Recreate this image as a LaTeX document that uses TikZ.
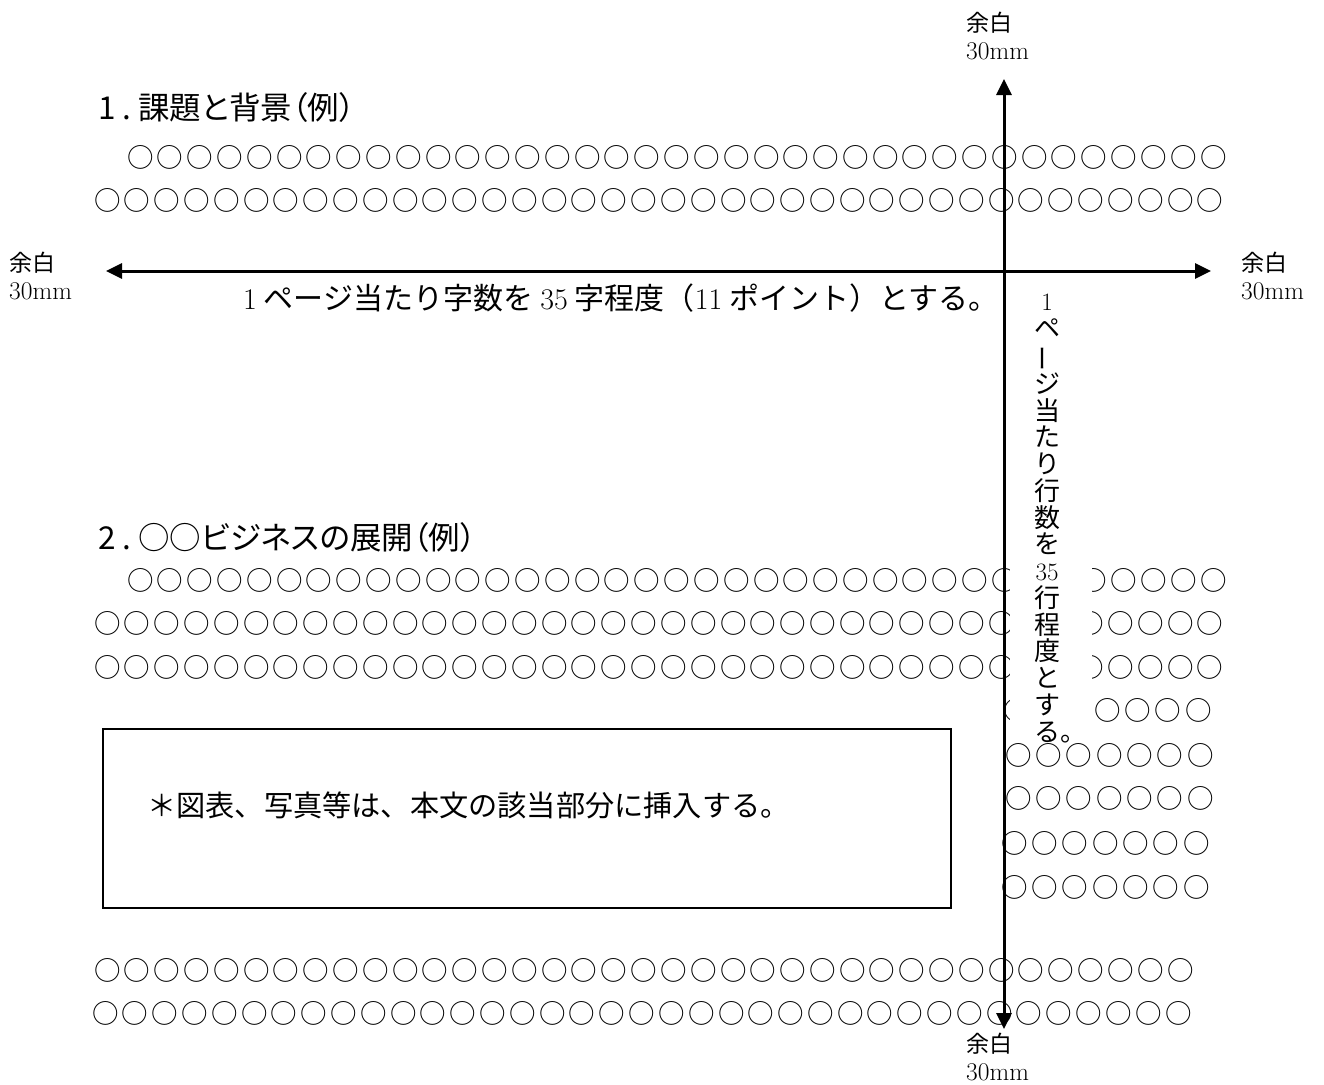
\documentclass[tikz,border=0pt]{standalone}
\usepackage{fontspec}
\usepackage{graphicx}
\newfontfamily\jp{Noto Sans CJK JP}
\newfontfamily\jpp[RawFeature=+palt]{Noto Sans CJK JP}
\usetikzlibrary{arrows.meta}
\ExplSyntaxOn
\cs_new:Npn \circrow #1 #2 { \prg_replicate:nn {#1} {○\kern#2pt} }
\ExplSyntaxOff
\begin{document}
\begin{tikzpicture}[x=1pt,y=-1pt,
  crow/.style={anchor=west, inner sep=0pt, font=\jp\fontsize{26.5}{27}\selectfont},
  lbl/.style={anchor=north west, align=left, inner sep=0pt, font=\fontsize{25.5}{28}\selectfont},
  head/.style={anchor=west, inner sep=0pt, font=\jpp\fontsize{31.5}{33}\selectfont},
  body/.style={anchor=west, inner sep=0pt, font=\jp\fontsize{30}{31}\selectfont},
  arr/.style={line width=3pt, {Triangle[length=16pt,width=15pt]}-{Triangle[length=16pt,width=15pt]}}]
\useasboundingbox (0,0) rectangle (1324,1084);

% headings
\node[head] (h1) at (98,108) {1\kern7pt.\kern7pt課題と背景（例）};
\node[head] (h2) at (98,538) {2\kern7pt.\kern7pt○○ビジネスの展開（例）};

% rows of circles
\node[crow] (r1) at (127,157) {\circrow{37}{3.3}};
\node[crow] (r2) at (94,200) {\circrow{38}{3.3}};
\node[crow] (r3) at (127,580) {\circrow{37}{3.3}};
\node[crow] (r4) at (94,623) {\circrow{38}{3.3}};
\node[crow] (r5) at (94,667) {\circrow{38}{3.3}};
\node[crow] (r6) at (1003,710) {\circrow{7}{3.8}};
\node[crow] (r7) at (1005,755) {\circrow{7}{3.8}};
\node[crow] (r8) at (1005,798) {\circrow{7}{3.8}};
\node[crow] (r9) at (1001,843) {\circrow{7}{3.8}};
\node[crow] (r10) at (1001,887) {\circrow{7}{3.8}};
\node[crow] (r11) at (94,970) {\circrow{37}{3.3}};
\node[crow] (r12) at (92,1013) {\circrow{37}{3.3}};

% figure box
\node[draw, line width=2pt, anchor=north west, inner sep=0pt, minimum width=848pt, minimum height=179pt] (fig) at (102,728) {};
\node[anchor=west, inner sep=0pt, font=\jp\fontsize{29.2}{30}\selectfont] (figtxt) at (147,805) {＊図表、写真等は、本文の該当部分に挿入する。};

% horizontal text
\node[body] (htxt) at (243,298) {{\rmfamily 1}\hspace{7pt}ページ当たり字数を\hspace{7pt}{\rmfamily 35}\hspace{7pt}字程度（{\rmfamily 11}\hspace{7pt}ポイント）とする。};

% vertical text with white backdrop
\fill[white] (1010,285) rectangle (1092,737);
\node[align=center, inner sep=0pt, anchor=north, font=\jp\fontsize{26}{26.75}\selectfont] (vtxt) at (1047,294)
  {{\rmfamily\fontsize{25}{26.75}\selectfont 1}\\ペ\\\rotatebox[origin=c]{90}{ー}\\ジ\\当\\た\\り\\行\\数\\を\\{\rmfamily\fontsize{25}{26.75}\selectfont 35}\\行\\程\\度\\と\\す\\る\rlap{。}};

% margin labels
\node[lbl] (ltop) at (966,12) {{\jp\fontsize{23}{28}\selectfont 余白}\\30mm};
\node[lbl] (lleft) at (9,252) {{\jp\fontsize{23}{28}\selectfont 余白}\\30mm};
\node[lbl] (lright) at (1241,252) {{\jp\fontsize{23}{28}\selectfont 余白}\\30mm};
\node[lbl] (lbot) at (966,1033) {{\jp\fontsize{23}{28}\selectfont 余白}\\30mm};

% arrows
\coordinate (ttop) at (1004,79);
\coordinate (tbot) at (1004,1029);
\coordinate (tleft) at (106,271);
\coordinate (tright) at (1211,271);
\draw[arr] (tleft) -- (tright);
\draw[arr] (tbot) -- (ttop);
\end{tikzpicture}
\end{document}
